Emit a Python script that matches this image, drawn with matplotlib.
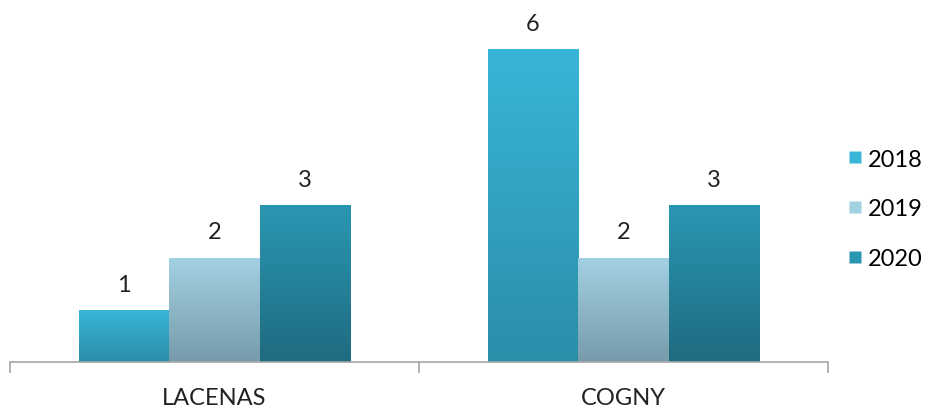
import matplotlib
matplotlib.use("Agg")
import matplotlib.pyplot as plt
import numpy as np
from matplotlib.colors import LinearSegmentedColormap
from matplotlib.lines import Line2D

plt.rcParams['font.family'] = ['Lato', 'DejaVu Sans']

categories = ['LACENAS', 'COGNY']
years = ['2018', '2019', '2020']
values = {
    '2018': [1, 6],
    '2019': [2, 2],
    '2020': [3, 3],
}
# top colour, bottom colour of each series gradient
grad = {
    '2018': ('#39b5d8', '#2a8ea9'),
    '2019': ('#a2d1e2', '#779cab'),
    '2020': ('#2a97b2', '#1f6b80'),
}

fig = plt.figure(figsize=(9.25, 4.1), dpi=100)
ax = fig.add_axes([10 / 925, (410 - 363) / 410, 818 / 925, 363 / 410])

x = np.arange(len(categories))
w = 0.2215
for i, yr in enumerate(years):
    bars = ax.bar(x + (i - 1) * w, values[yr], w, facecolor='none', edgecolor='none')
    cmap = LinearSegmentedColormap.from_list(yr, [grad[yr][1], grad[yr][0]])
    for b, v in zip(bars, values[yr]):
        bx, by = b.get_x(), b.get_y()
        bw, bh = b.get_width(), b.get_height()
        g = np.linspace(0, 1, 100).reshape(-1, 1)
        im = ax.imshow(g, cmap=cmap, origin='lower', aspect='auto',
                       extent=[bx, bx + bw, by, by + bh], zorder=2)
        im.set_clip_path(b)
        ax.annotate(str(v), (bx + bw / 2, bh), xytext=(0, 11), textcoords='offset points',
                    ha='center', va='bottom', fontsize=17, color='#222222')

ax.set_xlim(-0.5, 1.5)
ax.set_ylim(0, 363 / 52.2)
for s in ['top', 'right', 'left']:
    ax.spines[s].set_visible(False)
ax.spines['bottom'].set_color('#a6a6a6')
ax.spines['bottom'].set_linewidth(1.2)
ax.set_yticks([])
ax.set_xticks([-0.5, 0.5, 1.5])
ax.set_xticklabels([])
ax.tick_params(axis='x', length=8, color='#a6a6a6', width=1.2)
for xi, c in zip(x, categories):
    ax.text(xi, -0.68, c, ha='center', va='center', fontsize=17, color='#222222')

handles = [Line2D([], [], linestyle='none', marker='s', markersize=9,
                  markerfacecolor=grad[yr][0], markeredgecolor='none') for yr in years]
fig.legend(handles, years, loc='center left', bbox_to_anchor=(834 / 925, 1 - 210 / 410),
           frameon=False, fontsize=17, labelspacing=1.22, handletextpad=0.15, handlelength=0.8,
           borderpad=0)

fig.savefig('out.png', dpi=100)
